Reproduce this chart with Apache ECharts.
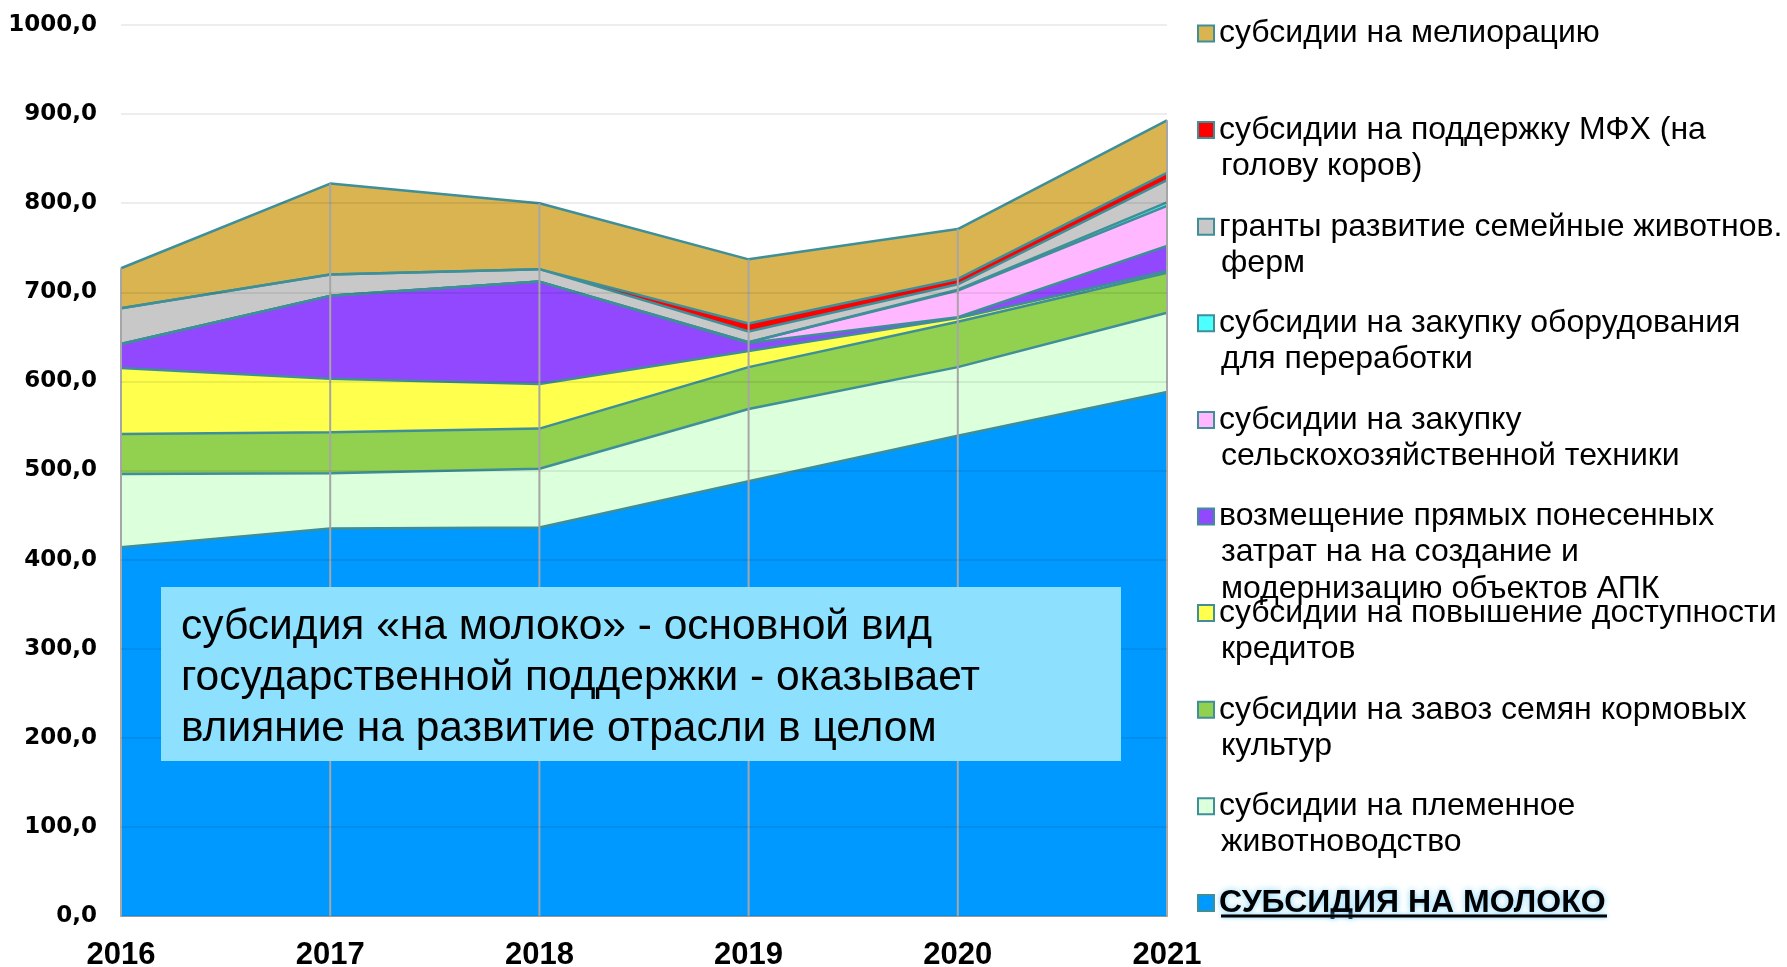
<!DOCTYPE html>
<html><head><meta charset="utf-8">
<script src="https://cdn.jsdelivr.net/npm/echarts@6.0.0/dist/echarts.min.js"></script>
<style>html,body{margin:0;padding:0;background:#fff}#c{width:1787px;height:967px}</style>
</head><body><div id="c"></div>
<script>
// ---- data ----
const years = ['2016', '2017', '2018', '2019', '2020', '2021'];
const milk          = [414, 435, 436, 488, 539, 588];
const breeding      = [82, 62, 66, 81, 77, 89];
const seeds         = [45, 46, 45, 47, 51, 45];
const credits       = [74, 60, 50, 18, 4, 2];
const modernization = [27, 93, 115, 9, 1, 28];
const machinery     = [0, 0, 0, 1, 30, 45];
const equipment     = [0, 0, 0, 0, 1, 4];
const familyFarms   = [40, 24, 14, 12, 6, 25];
const mfh           = [0, 0, 0, 9, 6, 8];
const melioration   = [45, 102, 74, 72, 56, 59];

const seriesNames = [
  'СУБСИДИЯ НА МОЛОКО',
  'субсидии на племенное животноводство',
  'субсидии на завоз семян кормовых культур',
  'субсидии на повышение доступности кредитов',
  'возмещение прямых понесенных затрат на на создание и модернизацию объектов АПК',
  'субсидии на закупку сельскохозяйственной техники',
  'субсидии на закупку оборудования для переработки',
  'гранты развитие семейные животнов. ферм',
  'субсидии на поддержку МФХ (на голову коров)',
  'субсидии на мелиорацию'
];
const legendLines = [
  ['СУБСИДИЯ НА МОЛОКО'],
  ['субсидии на племенное', 'животноводство'],
  ['субсидии на завоз семян кормовых', 'культур'],
  ['субсидии на повышение доступности', 'кредитов'],
  ['возмещение прямых понесенных', 'затрат на на создание и', 'модернизацию объектов АПК'],
  ['субсидии на закупку', 'сельскохозяйственной техники'],
  ['субсидии на закупку оборудования', 'для переработки'],
  ['гранты развитие семейные животнов.', 'ферм'],
  ['субсидии на поддержку МФХ (на', 'голову коров)'],
  ['субсидии на мелиорацию']
];
const seriesData = [milk, breeding, seeds, credits, modernization, machinery, equipment, familyFarms, mfh, melioration];
const fills = ['#0099FF', '#DCFFDC', '#92D050', '#FFFF4D', '#9148FF', '#FFB7FF', '#4DFFFF', '#C8C8C8', '#FF0000', '#DAB450'];
const noteLines = ['субсидия «на молоко» - основной вид', 'государственной поддержки - оказывает', 'влияние на развитие отрасли в целом'];

// ---- chart ----
const totals = years.map((_, i) => seriesData.reduce((s, a) => s + a[i], 0));
const chart = echarts.init(document.getElementById('c'));
const EDGE = '#3F8F99';

const series = seriesData.map((d, k) => ({
  name: seriesNames[k], type: 'line', stack: 'all', data: d,
  symbol: 'none', z: 2,
  lineStyle: { color: EDGE, width: 2.5 },
  itemStyle: { color: fills[k] },
  areaStyle: { color: fills[k], opacity: 1 }
}));
series.push({
  type: 'custom', z: 3, silent: true,
  data: totals.map((t, i) => [i, t]),
  encode: { x: 0, y: 1 },
  renderItem: (params, api) => {
    const top = api.coord([api.value(0), api.value(1)]);
    const bot = api.coord([api.value(0), 0]);
    return { type: 'line', shape: { x1: top[0], y1: top[1], x2: bot[0], y2: bot[1] },
      style: { stroke: '#A6A6A6', lineWidth: 2 } };
  }
});

const firstLine = {};
seriesNames.forEach((n, k) => { firstLine[n] = legendLines[k][0]; });
const legendOrder = seriesNames.slice().reverse();
const LEG_X = 1221, LEG_Y0 = 28.5, LEG_STEP = 96.6, LINE_H = 37;

const graphic = [];
// continuation lines of legend
legendOrder.forEach((n, idx) => {
  const k = seriesNames.indexOf(n);
  legendLines[k].slice(1).forEach((t, j) => {
    graphic.push({ type: 'text', x: LEG_X, y: LEG_Y0 + LEG_STEP * idx + LINE_H * (j + 1) + 4, z: 100,
      style: { text: t, font: '32px "Liberation Sans", Arial, sans-serif', fill: '#000', verticalAlign: 'middle' } });
  });
});
// underline for the bold item
graphic.push({ type: 'line', z: 100, shape: { x1: LEG_X, y1: 916, x2: 1607, y2: 916 },
  style: { stroke: '#000', lineWidth: 3, shadowColor: '#7fd4ff', shadowBlur: 4 } });
// note box
graphic.push({ type: 'rect', z: 100, shape: { x: 161, y: 587, width: 960, height: 174 }, style: { fill: '#8DE1FF' } });
graphic.push({ type: 'text', z: 101, x: 181, y: 678,
  style: { text: noteLines.join('\n'), font: '42.5px "Liberation Sans", Arial, sans-serif', lineHeight: 51,
    fill: '#000', verticalAlign: 'middle' } });

chart.setOption({
  animation: false,
  backgroundColor: '#fff',
  grid: { left: 121, right: 620, top: 25, bottom: 51, containLabel: false, outerBoundsMode: 'none' },
  xAxis: {
    type: 'category', data: years, boundaryGap: false,
    axisLine: { lineStyle: { color: '#A6A6A6', width: 2 } },
    axisTick: { show: false },
    axisLabel: { color: '#000', fontFamily: '"Liberation Sans", Arial, sans-serif', fontWeight: 'bold', fontSize: 31, margin: 24 },
    splitLine: { show: false }
  },
  yAxis: {
    type: 'value', min: 0, max: 1000, interval: 100, z: 5,
    axisLine: { show: false }, axisTick: { show: false },
    axisLabel: { color: '#000', fontFamily: '"DejaVu Sans", sans-serif', fontWeight: 'bold', fontSize: 23, margin: 24,
      formatter: v => v.toFixed(1).replace('.', ',') },
    splitLine: { lineStyle: { color: 'rgba(0,0,0,0.07)', width: 2 } }
  },
  legend: {
    data: legendOrder, orient: 'vertical', left: 1192, top: LEG_Y0 - 18.5,
    itemWidth: 16, itemHeight: 16, itemGap: LEG_STEP - 37, selectedMode: false, icon: 'rect',
    itemStyle: { borderColor: EDGE, borderWidth: 2 },
    formatter: n => n === seriesNames[0] ? '{b|' + firstLine[n] + '}' : firstLine[n],
    textStyle: { fontFamily: '"Liberation Sans", Arial, sans-serif', fontSize: 32, lineHeight: 37, color: '#000',
      rich: { b: { fontFamily: '"Liberation Sans", Arial, sans-serif', fontWeight: 'bold', fontSize: 32, lineHeight: 37,
        color: '#000', textShadowColor: '#7fd4ff', textShadowBlur: 6 } } }
  },
  graphic: graphic,
  series: series
});
</script></body></html>
